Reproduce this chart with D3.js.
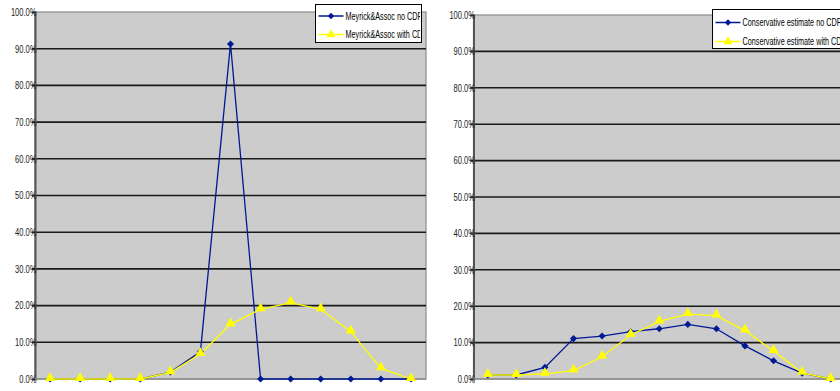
<!DOCTYPE html>
<html><head><meta charset="utf-8">
<script src="https://cdn.jsdelivr.net/npm/d3@7"></script>
<style>
body{margin:0;background:#fff;overflow:hidden}
svg text{font-family:"Liberation Sans",Arial,sans-serif;}
</style></head>
<body><svg id="c" width="840" height="391"></svg>
<script>
const categories = ["1","2","3","4","5","6","7","8","9","10","11","12","13"];
const yTicks = [0,0.1,0.2,0.3,0.4,0.5,0.6,0.7,0.8,0.9,1.0];

const leftNames = ["Meyrick&Assoc no CDP","Meyrick&Assoc with CDP"];
const leftNoCdp   = [0,0,0,0,0.019,0.074,0.913,0,0,0,0,0,0];
const leftWithCdp = [0,0,0,0,0.018,0.068,0.149,0.190,0.208,0.190,0.129,0.029,0];

const rightNames = ["Conservative estimate no CDP","Conservative estimate with CDP"];
const rightNoCdp   = [0.011,0.011,0.032,0.111,0.118,0.130,0.138,0.150,0.138,0.091,0.050,0.016,0];
const rightWithCdp = [0.011,0.011,0.014,0.023,0.061,0.121,0.158,0.178,0.174,0.133,0.077,0.017,0];

const blue = "#001a94", yellow = "#ffff00";
const SX = 0.72, LSX = 0.69;
const svg = d3.select("#c");

function chart(cfg){
  const g = svg.append("g");
  const x = d3.scaleBand().domain(categories).range([cfg.x0,cfg.x1]);
  const y = d3.scaleLinear().domain([0,1]).range([cfg.yb,cfg.yt]);
  g.append("rect").attr("x",cfg.x0).attr("y",cfg.yt).attr("width",cfg.x1-cfg.x0).attr("height",cfg.yb-cfg.yt)
    .attr("fill","#cccccc").attr("stroke","#8c8c8c").attr("stroke-width",1.2);
  g.selectAll(".grid").data(yTicks.filter(t=>t>0 && t<1)).enter().append("line")
    .attr("x1",cfg.x0-3).attr("x2",cfg.x1).attr("y1",d=>y(d)).attr("y2",d=>y(d))
    .attr("stroke","#1a1a1a").attr("stroke-width",1.6);
  const ax = g.append("g").attr("transform",`translate(${cfg.x0},0)`)
    .call(d3.axisLeft(y).tickValues(yTicks).tickFormat(d3.format(".1%")).tickSize(3));
  ax.select(".domain").attr("stroke","#555").attr("stroke-width",2);
  ax.selectAll(".tick line").attr("stroke","#222");
  ax.selectAll(".tick text").attr("font-size","10.5px").attr("fill","#222")
    .attr("font-family",'"Liberation Sans",Arial,sans-serif')
    .attr("x",0).attr("text-anchor","end")
    .attr("transform",`translate(1.5,0) scale(${SX},1)`);
  g.append("line").attr("x1",cfg.x0).attr("x2",cfg.x1).attr("y1",y(0)).attr("y2",y(0))
    .attr("stroke","#8c8c8c").attr("stroke-width",1.5);

  const cx = (d,i)=>x(categories[i])+x.bandwidth()/2;
  const line = d3.line().x((d,i)=>cx(d,i)).y(d=>y(d));
  const series = [{v:cfg.s1,c:blue,m:"diamond"},{v:cfg.s2,c:yellow,m:"triangle"}];
  series.forEach(s=>{
    g.append("path").datum(s.v).attr("d",line).attr("fill","none").attr("stroke",s.c).attr("stroke-width",1.3);
  });
  series.forEach(s=>{
    const sym = s.m==="diamond" ? d3.symbol().type(d3.symbolDiamond2).size(32) : d3.symbol().type(d3.symbolTriangle).size(44);
    g.selectAll(null).data(s.v).enter().append("path")
      .attr("d",sym).attr("transform",(d,i)=>`translate(${cx(d,i)},${y(d)+(s.m==="triangle"?-1:0)})`)
      .attr("fill",s.c);
  });
  const lg = svg.append("g");
  const clipId = "clip"+cfg.id;
  svg.append("clipPath").attr("id",clipId).append("rect")
    .attr("x",cfg.lx).attr("y",cfg.ly).attr("width",cfg.lw-1.5).attr("height",cfg.lh);
  lg.append("rect").attr("x",cfg.lx).attr("y",cfg.ly).attr("width",cfg.lw).attr("height",cfg.lh)
    .attr("fill","#fff").attr("stroke","#000").attr("stroke-width",1);
  const inner = lg.append("g").attr("clip-path",`url(#${clipId})`);
  cfg.names.forEach((n,i)=>{
    const yy = cfg.ly + cfg.row0 + i*cfg.rowGap;
    const s = series[i];
    inner.append("line").attr("x1",cfg.lx+3).attr("x2",cfg.lx+28).attr("y1",yy).attr("y2",yy)
      .attr("stroke",s.c).attr("stroke-width",1.5);
    const sym = s.m==="diamond" ? d3.symbol().type(d3.symbolDiamond2).size(26) : d3.symbol().type(d3.symbolTriangle).size(36);
    inner.append("path").attr("d",sym).attr("transform",`translate(${cfg.lx+15.5},${yy})`).attr("fill",s.c);
    inner.append("text").attr("x",0).attr("y",0).attr("font-size","10.5px").attr("fill","#000")
      .attr("transform",`translate(${cfg.lx+30},${yy+3.7}) scale(${LSX},1)`).text(n);
  });
}

chart({id:"L",x0:35,x1:426,yt:12,yb:379,s1:leftNoCdp,s2:leftWithCdp,names:leftNames,
  lx:315.5,ly:4.5,lw:106,lh:38,row0:11.5,rowGap:18.5});
chart({id:"R",x0:473.5,x1:845,yt:15,yb:379,s1:rightNoCdp,s2:rightWithCdp,names:rightNames,
  lx:712.5,ly:9.5,lw:140,lh:39,row0:13,rowGap:19});
</script></body></html>
